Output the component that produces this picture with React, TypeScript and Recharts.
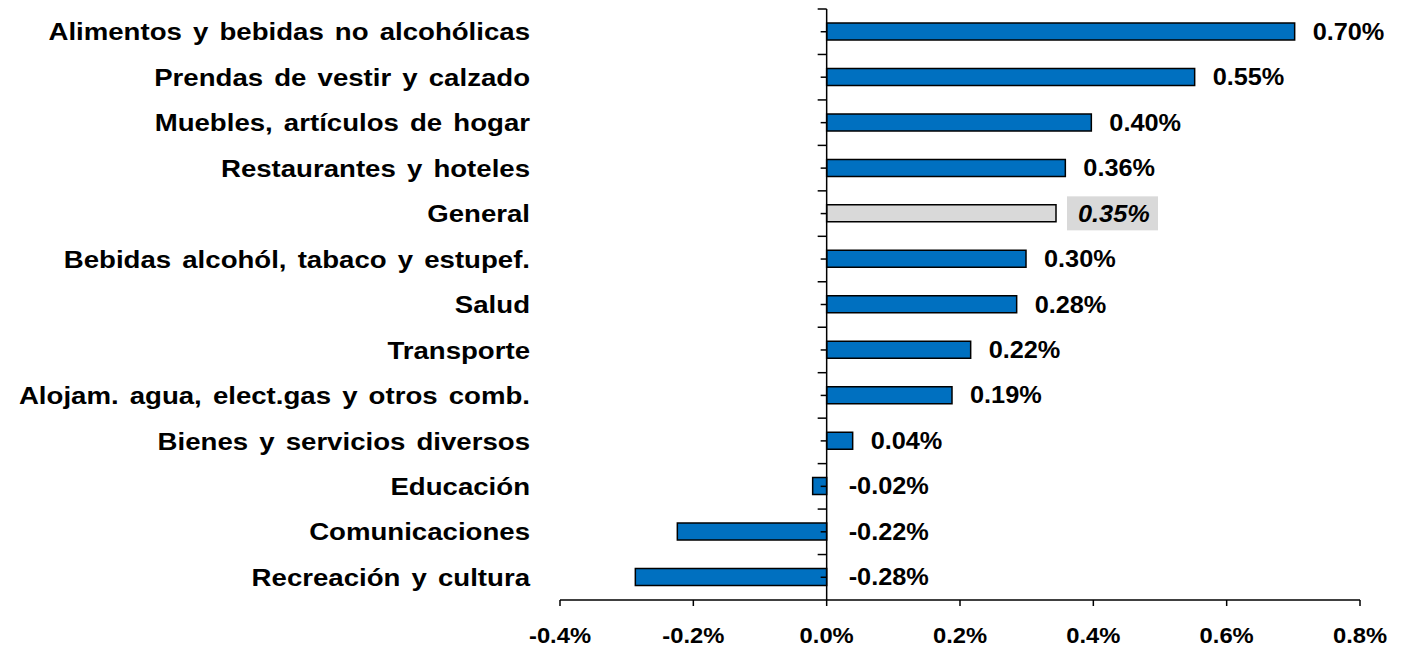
import React from 'react';
import { BarChart, Bar, XAxis, YAxis, Cell, LabelList, ReferenceLine } from 'recharts';

const categories = [
  'Alimentos y bebidas no alcohólicas',
  'Prendas de vestir y calzado',
  'Muebles, artículos de hogar',
  'Restaurantes y hoteles',
  'General',
  'Bebidas alcohól, tabaco y estupef.',
  'Salud',
  'Transporte',
  'Alojam. agua, elect.gas y otros comb.',
  'Bienes y servicios diversos',
  'Educación',
  'Comunicaciones',
  'Recreación y cultura',
];
const values = [0.702, 0.552, 0.397, 0.358, 0.344, 0.299, 0.285, 0.216, 0.188, 0.039, -0.021, -0.224, -0.287];
const valueLabels = ['0.70%', '0.55%', '0.40%', '0.36%', '0.35%', '0.30%', '0.28%', '0.22%', '0.19%', '0.04%', '-0.02%', '-0.22%', '-0.28%'];
const xTicks = [-0.4, -0.2, 0, 0.2, 0.4, 0.6, 0.8];
const xTickLabels = ['-0.4%', '-0.2%', '0.0%', '0.2%', '0.4%', '0.6%', '0.8%'];
const highlight = 'General';

const data = categories.map((name, i) => ({ name, value: values[i], label: valueLabels[i] }));

const W = 1402;
const H = 647;
const M = { top: 9, right: 42, bottom: 0, left: 0 };
const Y_W = 560;
const X_H = 47;
const X_MIN = -0.4;
const X_MAX = 0.8;
const PLOT_W = W - M.left - M.right - Y_W;
const PLOT_H = H - M.top - M.bottom - X_H;
const ZERO_X = M.left + Y_W + (PLOT_W * (0 - X_MIN)) / (X_MAX - X_MIN);
const BAND = PLOT_H / categories.length;

const FONT = '"Liberation Sans", Arial, sans-serif';
const BLUE = '#0070C0';
const GREY = '#D9D9D9';

const YTick = (props: any) => {
  const { x, y, payload } = props;
  return (
    <g>
      <text
        transform={`translate(${x},${y}) scale(1.15,1)`}
        x={0}
        y={0}
        dy="0.36em"
        textAnchor="end"
        fontFamily={FONT}
        fontWeight="bold"
        fontSize={24}
        wordSpacing={3}
        fill="#000"
      >
        {payload.value}
      </text>
      <line x1={ZERO_X - 6} x2={ZERO_X} y1={y} y2={y} stroke="#000" strokeWidth={1.5} />
      <line x1={ZERO_X - 9} x2={ZERO_X} y1={y - BAND / 2} y2={y - BAND / 2} stroke="#000" strokeWidth={1.5} />
    </g>
  );
};

const XTick = (props: any) => {
  const { x, y, payload, index } = props;
  return (
    <text
      transform={`translate(${x},${y + 37}) scale(1.08,1)`}
      x={0}
      y={0}
      textAnchor="middle"
      fontFamily={FONT}
      fontWeight="bold"
      fontSize={22}
      fill="#000"
    >
      {xTickLabels[xTicks.indexOf(payload.value)] ?? xTickLabels[index]}
    </text>
  );
};

const ValueLabel = (props: any) => {
  const { x, y, width, height, index } = props;
  const v = values[index];
  const end = Math.max(x, x + width);
  const cy = y + height / 2;
  const isHi = categories[index] === highlight;
  const tx = isHi ? end + 22 : end + (v >= 0 ? 18 : 22);
  return (
    <g>
      {isHi ? <rect x={end + 11} y={cy - 17} width={91} height={34} fill={GREY} /> : null}
      <text
        transform={`translate(${tx},${cy}) scale(1.1,1)`}
        x={0}
        y={0}
        dy="0.36em"
        fontFamily={FONT}
        fontWeight="bold"
        fontStyle={isHi ? 'italic' : 'normal'}
        fontSize={23}
        fill="#000"
      >
        {valueLabels[index]}
      </text>
    </g>
  );
};

export default function App() {
  return (
    <div style={{ position: 'absolute', left: 0, top: 0, width: W, height: H, background: '#fff' }}>
      <BarChart width={W} height={H} data={data} layout="vertical" margin={M} barCategoryGap={0}>
        <XAxis
          type="number"
          domain={[X_MIN, X_MAX]}
          ticks={xTicks}
          interval={0}
          height={X_H}
          axisLine={{ stroke: '#000', strokeWidth: 1.5 }}
          tickLine={{ stroke: '#000', strokeWidth: 1.5 }}
          tickSize={6}
          tickMargin={0}
          tick={<XTick />}
          allowDataOverflow
        />
        <YAxis
          type="category"
          dataKey="name"
          width={Y_W}
          axisLine={false}
          tickLine={false}
          tickSize={0}
          tickMargin={30}
          interval={0}
          tick={<YTick />}
        />
        <ReferenceLine x={0} stroke="#000" strokeWidth={1.5} />
        <Bar dataKey="value" barSize={17} stroke="#000" strokeWidth={1.5} isAnimationActive={false}>
          {data.map((d) => (
            <Cell key={d.name} fill={d.name === highlight ? GREY : BLUE} />
          ))}
          <LabelList dataKey="value" content={<ValueLabel />} />
        </Bar>
      </BarChart>
    </div>
  );
}
